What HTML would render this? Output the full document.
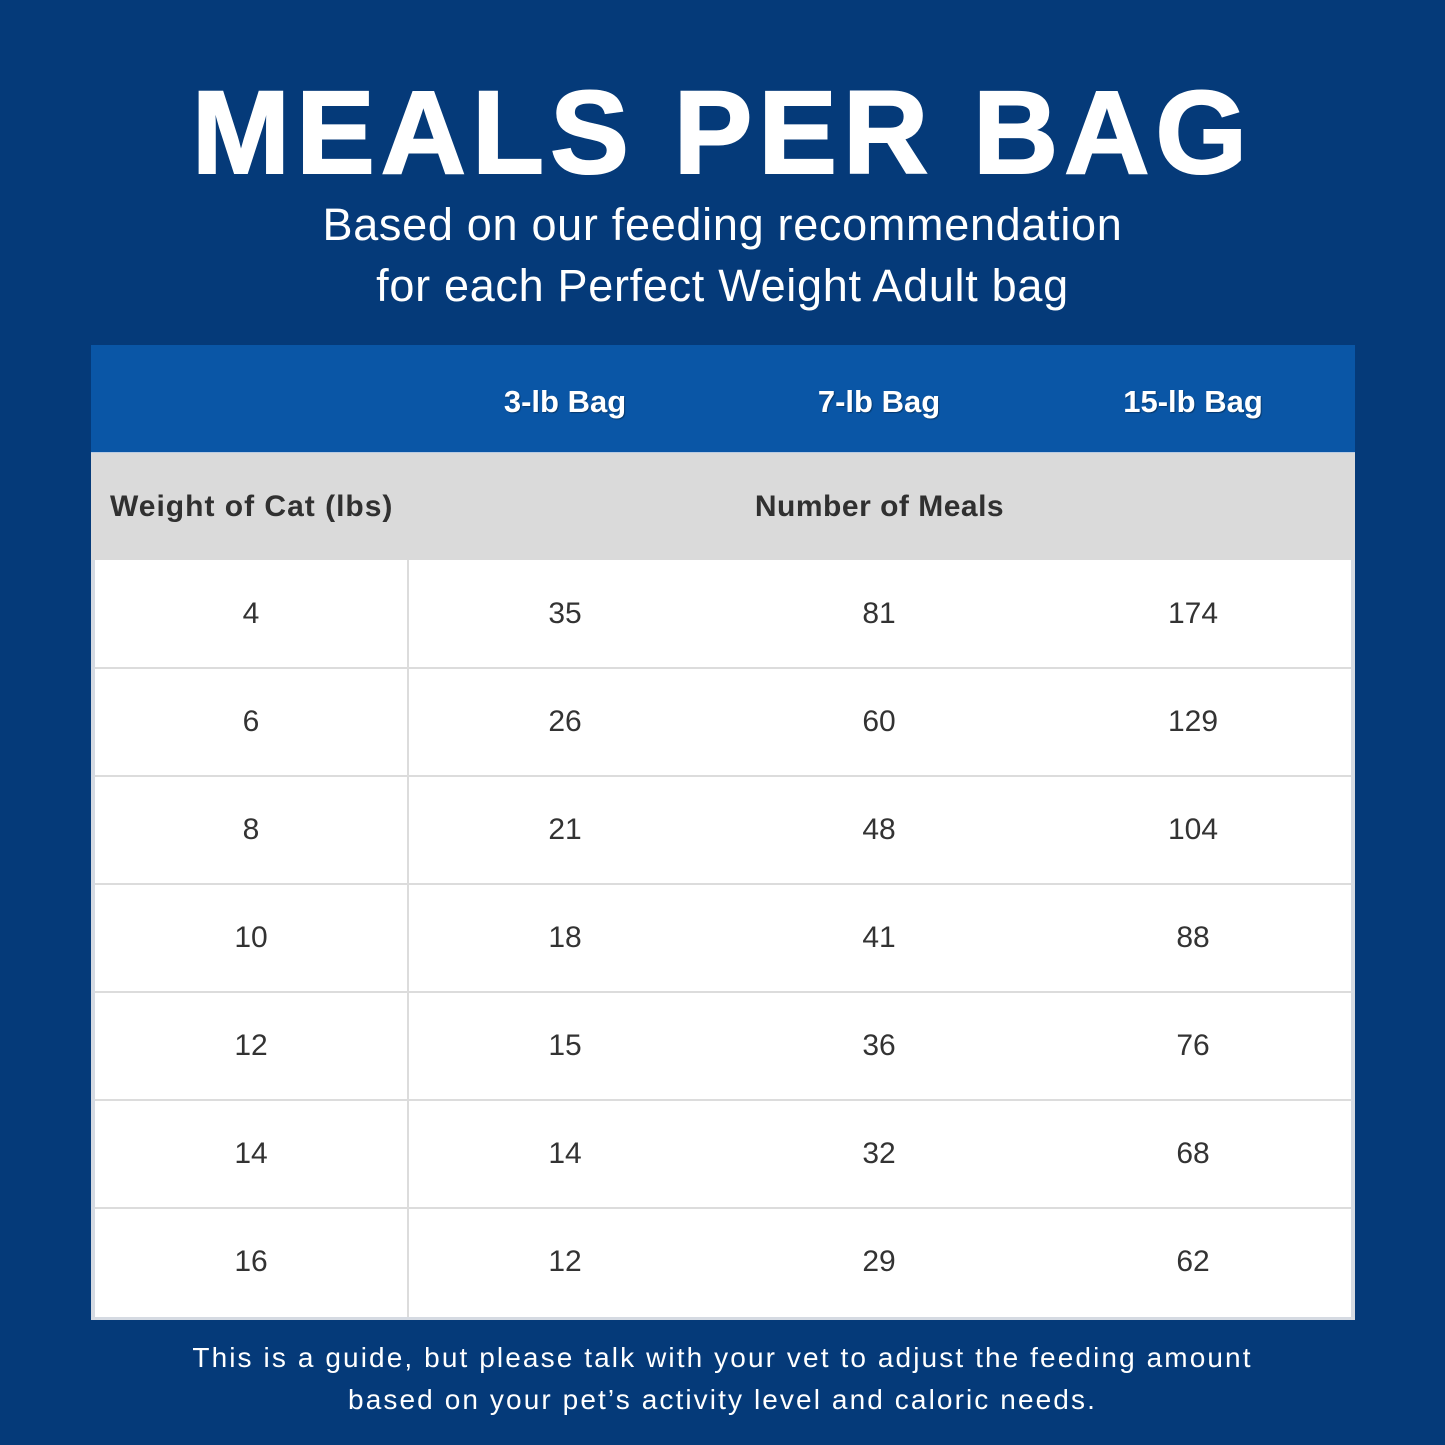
<!DOCTYPE html>
<html><head><meta charset="utf-8"><style>
*{margin:0;padding:0;box-sizing:border-box}
html,body{width:1445px;height:1445px;overflow:hidden;background:#053a79;font-family:"Liberation Sans",sans-serif}
.abs{position:absolute}
.title{left:0;width:1445px;top:74px;font-size:118px;line-height:118px;font-weight:bold;color:#fff;text-align:center;letter-spacing:6px;-webkit-text-stroke:2px #fff}
.sub{left:0;width:1445px;top:194px;font-size:45px;line-height:61px;color:#fff;text-align:center;letter-spacing:0.7px}
.foot{left:0;width:1445px;top:1337px;font-size:28px;line-height:42px;color:#fff;text-align:center;letter-spacing:2.1px}
.tbl{left:91px;top:345px;width:1264px;height:975px;background:#d5dae2}
.hdr{left:0;top:0;width:1264px;height:107px;background:#0a56a6}
.gray{left:0;top:107px;width:1264px;height:108px;background:#dadada;border-top:1px solid #b9cbe2}
.white{left:4px;top:215px;width:1256px;height:757px;background:#fff}
.hl{position:absolute;left:0;width:1256px;height:2px;background:#dcdcdc}
.vl{position:absolute;left:312px;top:0;width:2px;height:757px;background:#dcdcdc}
.cell{position:absolute;display:flex;align-items:center;justify-content:center;font-size:30px;color:#333;height:108px}
.bag{position:absolute;top:3px;height:107px;display:flex;align-items:center;justify-content:center;font-size:31px;font-weight:bold;color:#fff;text-shadow:1px 1px 1px rgba(0,0,0,0.35)}
.gt{position:absolute;height:108px;display:flex;align-items:center;font-size:30px;font-weight:bold;color:#303030}
</style></head><body>
<div class="abs title">MEALS PER BAG</div>
<div class="abs sub">Based on our feeding recommendation<br>for each Perfect Weight Adult bag</div>

<div class="abs tbl">
  <div class="abs hdr">
    <div class="bag" style="left:317px;width:314px">3-lb Bag</div>
    <div class="bag" style="left:631px;width:314px">7-lb Bag</div>
    <div class="bag" style="left:945px;width:314px">15-lb Bag</div>
  </div>
  <div class="abs gray">
    <div class="gt" style="left:19px;top:0;letter-spacing:1px">Weight of Cat (lbs)</div>
    <div class="gt" style="left:317px;width:943px;top:0;justify-content:center;letter-spacing:0.5px">Number of Meals</div>
  </div>
  <div class="abs white">
    <div class="hl" style="top:107px"></div>
    <div class="hl" style="top:215px"></div>
    <div class="hl" style="top:323px"></div>
    <div class="hl" style="top:431px"></div>
    <div class="hl" style="top:539px"></div>
    <div class="hl" style="top:647px"></div>
    <div class="vl"></div>

    <div class="cell" style="left:0;width:312px;top:0">4</div>
    <div class="cell" style="left:0;width:312px;top:108px">6</div>
    <div class="cell" style="left:0;width:312px;top:216px">8</div>
    <div class="cell" style="left:0;width:312px;top:324px">10</div>
    <div class="cell" style="left:0;width:312px;top:432px">12</div>
    <div class="cell" style="left:0;width:312px;top:540px">14</div>
    <div class="cell" style="left:0;width:312px;top:648px">16</div>

    <div class="cell" style="left:313px;width:314px;top:0">35</div>
    <div class="cell" style="left:313px;width:314px;top:108px">26</div>
    <div class="cell" style="left:313px;width:314px;top:216px">21</div>
    <div class="cell" style="left:313px;width:314px;top:324px">18</div>
    <div class="cell" style="left:313px;width:314px;top:432px">15</div>
    <div class="cell" style="left:313px;width:314px;top:540px">14</div>
    <div class="cell" style="left:313px;width:314px;top:648px">12</div>

    <div class="cell" style="left:627px;width:314px;top:0">81</div>
    <div class="cell" style="left:627px;width:314px;top:108px">60</div>
    <div class="cell" style="left:627px;width:314px;top:216px">48</div>
    <div class="cell" style="left:627px;width:314px;top:324px">41</div>
    <div class="cell" style="left:627px;width:314px;top:432px">36</div>
    <div class="cell" style="left:627px;width:314px;top:540px">32</div>
    <div class="cell" style="left:627px;width:314px;top:648px">29</div>

    <div class="cell" style="left:941px;width:314px;top:0">174</div>
    <div class="cell" style="left:941px;width:314px;top:108px">129</div>
    <div class="cell" style="left:941px;width:314px;top:216px">104</div>
    <div class="cell" style="left:941px;width:314px;top:324px">88</div>
    <div class="cell" style="left:941px;width:314px;top:432px">76</div>
    <div class="cell" style="left:941px;width:314px;top:540px">68</div>
    <div class="cell" style="left:941px;width:314px;top:648px">62</div>
  </div>
</div>

<div class="abs foot">This is a guide, but please talk with your vet to adjust the feeding amount<br>based on your pet’s activity level and caloric needs.</div>
</body></html>
